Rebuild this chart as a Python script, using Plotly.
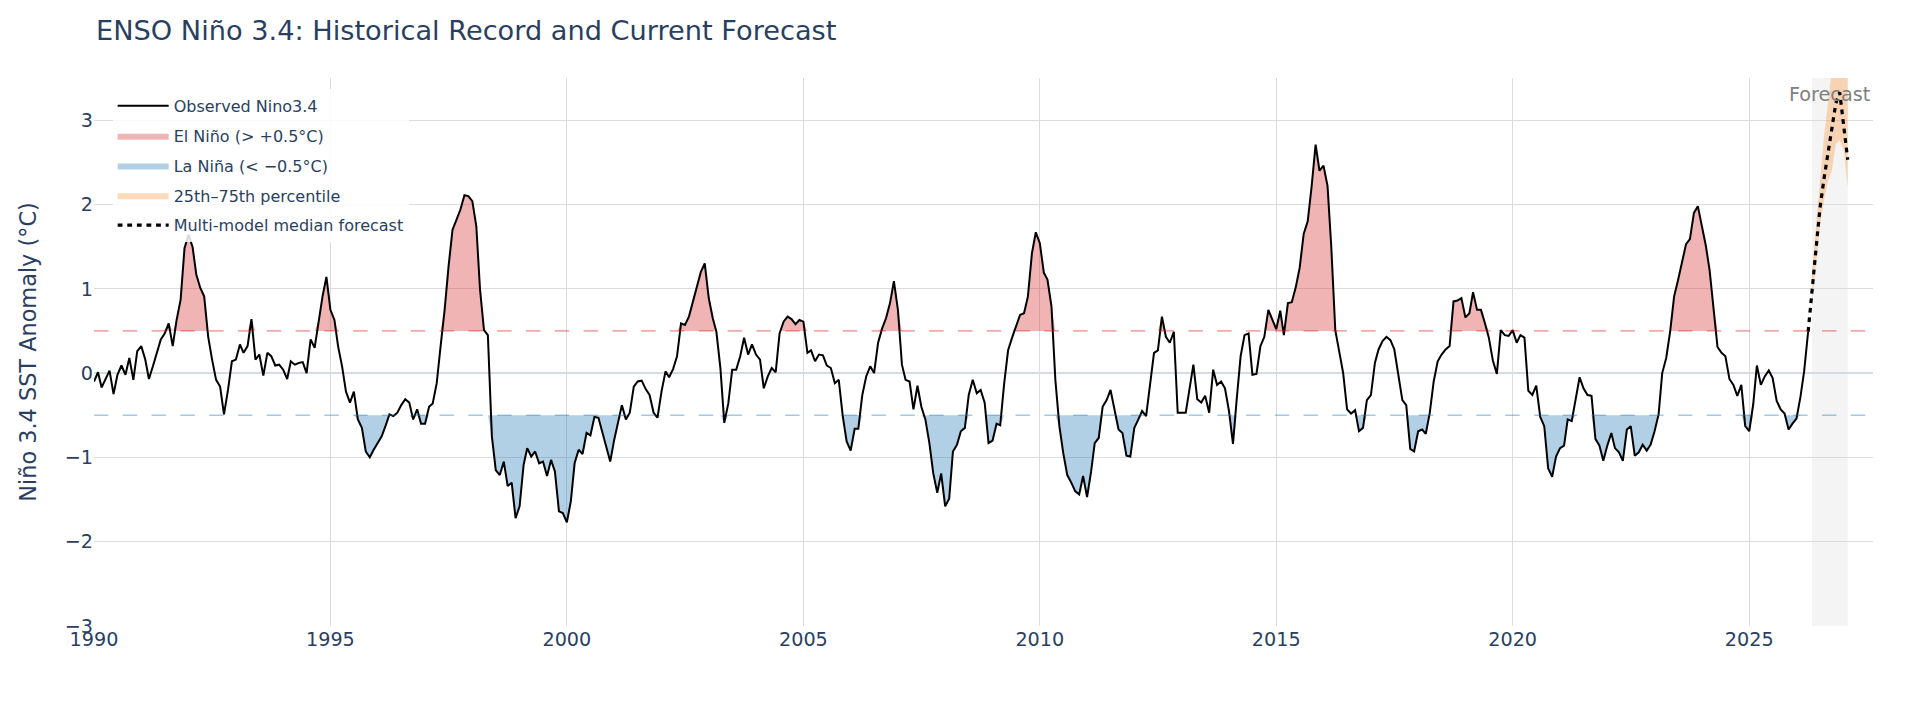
import pandas as pd
import plotly.graph_objects as go

# ---------------- data ----------------
obs_start = "1990-01-01"
nino34_obs = [
    -0.10, 0.01, -0.17, -0.06, 0.03, -0.25, -0.02, 0.09, -0.02, 0.18, -0.08, 0.26,   # 1990
    0.32, 0.16, -0.07, 0.08, 0.24, 0.40, 0.47, 0.59, 0.32, 0.63, 0.87, 1.48,         # 1991
    1.64, 1.50, 1.17, 1.01, 0.91, 0.43, 0.16, -0.08, -0.16, -0.49, -0.20, 0.14,      # 1992
    0.16, 0.34, 0.24, 0.32, 0.64, 0.16, 0.22, -0.03, 0.24, 0.20, 0.09, 0.10,         # 1993
    0.04, -0.07, 0.14, 0.10, 0.12, 0.13, 0.00, 0.40, 0.30, 0.63, 0.91, 1.14,         # 1994
    0.75, 0.63, 0.32, 0.08, -0.22, -0.35, -0.22, -0.55, -0.65, -0.93, -1.00, -0.91,  # 1995
    -0.83, -0.75, -0.63, -0.49, -0.51, -0.47, -0.38, -0.31, -0.35, -0.55, -0.43, -0.60,  # 1996
    -0.60, -0.40, -0.36, -0.12, 0.32, 0.75, 1.26, 1.70, 1.82, 1.94, 2.11, 2.10,      # 1997
    2.04, 1.74, 1.00, 0.51, 0.45, -0.75, -1.15, -1.21, -1.05, -1.34, -1.30, -1.72,   # 1998
    -1.58, -1.09, -0.89, -0.99, -0.93, -1.07, -1.05, -1.22, -1.03, -1.17, -1.64, -1.66,  # 1999
    -1.77, -1.52, -1.07, -0.91, -0.96, -0.71, -0.74, -0.52, -0.53, -0.71, -0.89, -1.05,  # 2000
    -0.79, -0.57, -0.38, -0.55, -0.47, -0.16, -0.10, -0.09, -0.19, -0.26, -0.47, -0.53,  # 2001
    -0.22, 0.02, -0.05, 0.05, 0.20, 0.59, 0.57, 0.67, 0.85, 1.05, 1.20, 1.30,        # 2002
    0.89, 0.65, 0.49, 0.06, -0.59, -0.36, 0.04, 0.04, 0.20, 0.42, 0.22, 0.34,        # 2003
    0.22, 0.16, -0.18, -0.04, 0.06, 0.01, 0.47, 0.61, 0.67, 0.64, 0.58, 0.63,        # 2004
    0.61, 0.24, 0.27, 0.14, 0.22, 0.21, 0.09, 0.06, -0.12, -0.08, -0.51, -0.81,      # 2005
    -0.92, -0.66, -0.66, -0.26, -0.04, 0.08, 0.00, 0.36, 0.53, 0.65, 0.83, 1.09,     # 2006
    0.75, 0.10, -0.08, -0.10, -0.43, -0.15, -0.40, -0.55, -0.83, -1.19, -1.42, -1.19,  # 2007
    -1.58, -1.49, -0.93, -0.85, -0.69, -0.65, -0.26, -0.08, -0.24, -0.20, -0.35, -0.83,  # 2008
    -0.80, -0.60, -0.62, -0.12, 0.27, 0.42, 0.55, 0.69, 0.71, 0.91, 1.42, 1.67,      # 2009
    1.54, 1.19, 1.11, 0.79, -0.08, -0.63, -0.95, -1.21, -1.30, -1.40, -1.44, -1.22,  # 2010
    -1.47, -1.17, -0.83, -0.77, -0.40, -0.32, -0.20, -0.43, -0.67, -0.71, -0.98, -0.99,  # 2011
    -0.65, -0.55, -0.45, -0.51, -0.16, 0.24, 0.27, 0.67, 0.43, 0.36, 0.49, -0.47,    # 2012
    -0.47, -0.47, -0.20, 0.10, -0.31, -0.35, -0.27, -0.47, 0.04, -0.14, -0.10, -0.18,  # 2013
    -0.45, -0.84, -0.32, 0.20, 0.45, 0.47, -0.02, -0.01, 0.32, 0.43, 0.75, 0.63,     # 2014
    0.52, 0.74, 0.45, 0.83, 0.84, 1.02, 1.25, 1.65, 1.80, 2.21, 2.71, 2.40,          # 2015
    2.46, 2.22, 1.50, 0.51, 0.26, 0.00, -0.43, -0.48, -0.44, -0.69, -0.65, -0.32,    # 2016
    -0.26, 0.12, 0.28, 0.38, 0.43, 0.39, 0.28, 0.00, -0.32, -0.38, -0.90, -0.93,     # 2017
    -0.69, -0.67, -0.72, -0.47, -0.10, 0.14, 0.22, 0.28, 0.32, 0.85, 0.86, 0.89,     # 2018
    0.66, 0.71, 0.96, 0.75, 0.75, 0.59, 0.42, 0.15, -0.01, 0.51, 0.45, 0.44,         # 2019
    0.51, 0.36, 0.45, 0.42, -0.21, -0.26, -0.15, -0.52, -0.63, -1.13, -1.23, -0.99,  # 2020
    -0.89, -0.86, -0.55, -0.57, -0.31, -0.05, -0.18, -0.26, -0.27, -0.78, -0.86, -1.04,  # 2021
    -0.86, -0.71, -0.89, -0.94, -1.04, -0.67, -0.63, -0.98, -0.94, -0.85, -0.92, -0.85,  # 2022
    -0.69, -0.49, 0.00, 0.18, 0.49, 0.91, 1.10, 1.31, 1.53, 1.59, 1.90, 1.98,        # 2023
    1.76, 1.51, 1.22, 0.78, 0.31, 0.24, 0.20, -0.07, -0.14, -0.27, -0.14, -0.63,     # 2024
    -0.69, -0.37, 0.09, -0.14, -0.04, 0.03, -0.06, -0.33, -0.43, -0.48, -0.67, -0.60,  # 2025
    -0.54, -0.28, 0.02, 0.49,                                                        # 2026
]

fc_start = "2026-05-01"
fc_median = [1.00, 1.50, 1.95, 2.30, 2.60, 2.90, 3.20, 3.33, 2.95, 2.53]
fc_p25 = [0.85, 1.30, 1.75, 2.05, 2.28, 2.40, 2.72, 2.76, 2.65, 2.20]
fc_p75 = [1.20, 1.75, 2.30, 2.80, 3.20, 3.60, 3.85, 3.95, 3.90, 3.70]

el_nino_thr = 0.5
la_nina_thr = -0.5
y_ticks = [-3, -2, -1, 0, 1, 2, 3]

# ---------------- derived series ----------------
obs_dates = pd.date_range(obs_start, periods=len(nino34_obs), freq="MS")
fc_dates = pd.date_range(fc_start, periods=len(fc_median), freq="MS")
el_clip = [max(v, el_nino_thr) for v in nino34_obs]
la_clip = [min(v, la_nina_thr) for v in nino34_obs]
med_x = [obs_dates[-1]] + list(fc_dates)
med_y = [nino34_obs[-1]] + fc_median
fc_mid = fc_dates[0] + (fc_dates[-1] - fc_dates[0]) / 2

S = 1.6  # overall scale of sizes
FONT = "DejaVu Sans, Verdana, sans-serif"

fig = go.Figure()

# El Niño fill
fig.add_trace(go.Scatter(x=obs_dates, y=[el_nino_thr] * len(obs_dates), mode="lines",
                         line=dict(width=0), showlegend=False, hoverinfo="skip",
                         legendgroup="el"))
fig.add_trace(go.Scatter(x=obs_dates, y=el_clip, mode="lines", line=dict(width=0),
                         fill="tonexty", fillcolor="rgba(214,39,40,0.35)",
                         name="El Niño (> +0.5°C)", legendgroup="el", legendrank=2))
# La Niña fill
fig.add_trace(go.Scatter(x=obs_dates, y=[la_nina_thr] * len(obs_dates), mode="lines",
                         line=dict(width=0), showlegend=False, hoverinfo="skip",
                         legendgroup="la"))
fig.add_trace(go.Scatter(x=obs_dates, y=la_clip, mode="lines", line=dict(width=0),
                         fill="tonexty", fillcolor="rgba(31,119,180,0.35)",
                         name="La Niña (< −0.5°C)", legendgroup="la", legendrank=3))
# Forecast percentile band
fig.add_trace(go.Scatter(x=fc_dates, y=fc_p25, mode="lines", line=dict(width=0),
                         showlegend=False, hoverinfo="skip", legendgroup="band"))
fig.add_trace(go.Scatter(x=fc_dates, y=fc_p75, mode="lines", line=dict(width=0),
                         fill="tonexty", fillcolor="rgba(255,127,14,0.28)",
                         name="25th–75th percentile", legendgroup="band", legendrank=4))
# Observed
fig.add_trace(go.Scatter(x=obs_dates, y=nino34_obs, mode="lines",
                         line=dict(color="black", width=1.25 * S),
                         name="Observed Nino3.4", legendgroup="obs", legendrank=1))
# Median forecast
fig.add_trace(go.Scatter(x=med_x, y=med_y, mode="lines",
                         line=dict(color="black", width=2 * S, dash="4.8px,4.8px"),
                         name="Multi-model median forecast", legendgroup="med", legendrank=5))

# thresholds
fig.add_hline(y=el_nino_thr, line=dict(color="rgba(214,39,40,0.4)", width=1 * S, dash="14.4px,14.4px"))
fig.add_hline(y=la_nina_thr, line=dict(color="rgba(31,119,180,0.4)", width=1 * S, dash="14.4px,14.4px"))

# forecast period shading
fig.add_vrect(x0=fc_dates[0], x1=fc_dates[-1], fillcolor="rgba(128,128,128,0.09)",
              line_width=0, layer="below")
fig.add_annotation(x=fc_mid, y=1, xref="x", yref="paper", yanchor="top", yshift=-2.5,
                   text="Forecast", showarrow=False,
                   font=dict(size=12 * S, color="gray", family=FONT))

fig.update_layout(
    width=1920, height=705,
    template="plotly_white",
    margin=dict(l=94, r=47, t=78, b=79),
    title=dict(text="ENSO Niño 3.4: Historical Record and Current Forecast",
               x=0.05, xanchor="left", y=1 - 30 / 705, yanchor="middle",
               font=dict(size=17 * S, family=FONT)),
    font=dict(size=12 * S, family=FONT),
    legend=dict(x=0.0105, y=0.98, xanchor="left", yanchor="top",
                bgcolor="rgba(255,255,255,0.85)", font=dict(size=10 * S, family=FONT),
                itemwidth=51, tracegroupgap=6.0),
    showlegend=True,
)
fig.update_xaxes(type="date", range=["1990-01-01", "2027-08-15"], dtick="M60",
                 tick0="1990-01-01", tickformat="%Y", gridcolor="#dcdcdc",
                 zeroline=False, showline=False, tickfont=dict(size=12 * S))
fig.update_yaxes(range=[-3, 3.5], tickvals=y_ticks, gridcolor="#dcdcdc",
                 zeroline=True, zerolinecolor="#d3dbe6", zerolinewidth=2,
                 title=dict(text="Niño 3.4 SST Anomaly (°C)", font=dict(size=14 * S),
                            standoff=21),
                 tickfont=dict(size=12 * S))

fig.write_html("out.html")
